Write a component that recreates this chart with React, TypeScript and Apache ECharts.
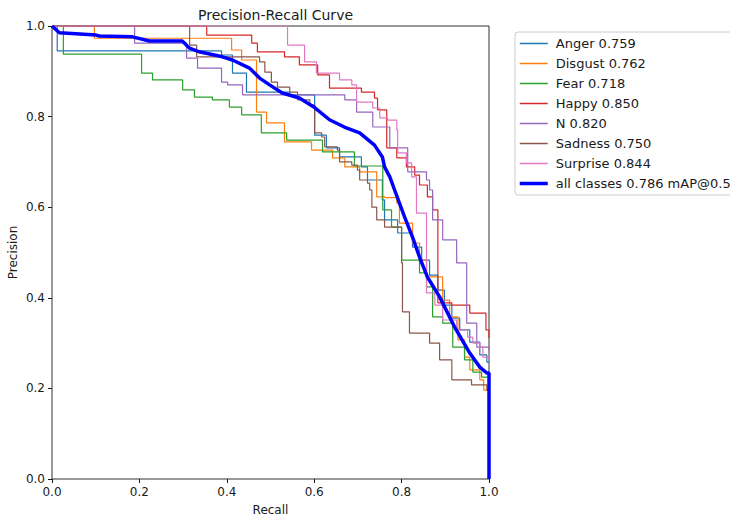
import React, { useEffect, useRef } from "react";
import * as echarts from "echarts";

const FONT = "DejaVu Sans";
const INK = "#1a1a1a";

const classNames = ["Anger 0.759", "Disgust 0.762", "Fear 0.718", "Happy 0.850", "N 0.820", "Sadness 0.750", "Surprise 0.844"];
const allName = "all classes 0.786 mAP@0.5";
const classColors = ["#1f77b4", "#ff7f0e", "#2ca02c", "#d62728", "#9467bd", "#8c564b", "#e377c2"];
const tickValues = [0, 0.2, 0.4, 0.6, 0.8, 1.0];

const anger = [
  [0, 1], [0.012, 0.945], [0.388, 0.936], [0.413, 0.896], [0.445, 0.854], [0.544, 0.848], [0.601, 0.759],
  [0.628, 0.731], [0.658, 0.711], [0.708, 0.689], [0.722, 0.66], [0.756, 0.616], [0.761, 0.572], [0.791, 0.543],
  [0.825, 0.512], [0.846, 0.483], [0.864, 0.45], [0.883, 0.417], [0.898, 0.384], [0.915, 0.355], [0.933, 0.329],
  [0.956, 0.302], [0.979, 0.274], [0.995, 0.258], [1.0, 0.258],
];
const disgust = [
  [0, 1], [0.097, 0.973], [0.411, 0.947], [0.434, 0.925], [0.468, 0.81], [0.491, 0.786], [0.532, 0.744],
  [0.594, 0.726], [0.642, 0.709], [0.67, 0.689], [0.704, 0.678], [0.743, 0.623], [0.762, 0.621],
  [0.789, 0.609], [0.795, 0.565], [0.825, 0.521], [0.841, 0.483], [0.857, 0.446], [0.894, 0.395], [0.91, 0.358],
  [0.929, 0.307], [0.944, 0.269], [0.956, 0.241], [0.979, 0.219], [0.988, 0.196], [1.0, 0.19],
];
const fear = [
  [0, 1], [0.026, 0.938], [0.205, 0.896], [0.23, 0.881], [0.299, 0.859], [0.326, 0.843], [0.367, 0.837],
  [0.406, 0.821], [0.434, 0.804], [0.479, 0.764], [0.537, 0.748], [0.619, 0.722], [0.692, 0.691], [0.757, 0.594],
  [0.777, 0.556], [0.8, 0.483], [0.841, 0.455], [0.857, 0.424], [0.871, 0.358], [0.894, 0.344], [0.917, 0.291],
  [0.944, 0.263], [0.963, 0.236], [0.983, 0.225], [1.0, 0.219],
];
const happy = [
  [0, 1], [0.354, 0.98], [0.457, 0.962], [0.47, 0.943], [0.532, 0.932], [0.566, 0.914], [0.608, 0.892],
  [0.635, 0.863], [0.708, 0.854], [0.738, 0.841], [0.745, 0.815], [0.766, 0.731], [0.789, 0.709], [0.811, 0.689],
  [0.83, 0.671], [0.841, 0.649], [0.859, 0.623], [0.871, 0.594], [0.883, 0.389], [0.915, 0.384], [0.956, 0.366],
  [0.993, 0.329], [1.0, 0.311],
];
const neutral = [
  [0, 1], [0.189, 0.962], [0.308, 0.929], [0.333, 0.907], [0.388, 0.876], [0.402, 0.87], [0.436, 0.848],
  [0.67, 0.837], [0.697, 0.81], [0.734, 0.777], [0.773, 0.731], [0.814, 0.678], [0.857, 0.66], [0.864, 0.638],
  [0.871, 0.572], [0.894, 0.528], [0.926, 0.477], [0.949, 0.344], [0.972, 0.291], [1.0, 0.285],
];
const sadness = [
  [0, 1], [0.315, 0.958], [0.331, 0.932], [0.475, 0.921], [0.487, 0.898], [0.502, 0.876], [0.516, 0.865],
  [0.544, 0.854], [0.562, 0.837], [0.59, 0.826], [0.601, 0.764], [0.617, 0.755], [0.624, 0.733], [0.653, 0.726],
  [0.658, 0.7], [0.686, 0.693], [0.699, 0.682], [0.704, 0.66], [0.722, 0.653], [0.727, 0.638], [0.732, 0.6],
  [0.743, 0.572], [0.761, 0.556], [0.8, 0.477], [0.802, 0.369], [0.818, 0.322], [0.864, 0.3], [0.887, 0.263],
  [0.915, 0.219], [0.96, 0.208], [0.995, 0.196], [1.0, 0.196],
];
const surprise = [
  [0, 1], [0.539, 0.958], [0.578, 0.921], [0.605, 0.896], [0.658, 0.881], [0.686, 0.87], [0.697, 0.832],
  [0.734, 0.819], [0.75, 0.797], [0.768, 0.792], [0.789, 0.77], [0.791, 0.72], [0.811, 0.698], [0.823, 0.667],
  [0.834, 0.587], [0.857, 0.411], [0.876, 0.384], [0.894, 0.351], [0.926, 0.329], [0.951, 0.313], [0.963, 0.3],
  [0.979, 0.291], [0.986, 0.269], [1.0, 0.263],
];
const allClasses = [
  [0, 1], [0.017, 0.985], [0.101, 0.98], [0.108, 0.978], [0.184, 0.976], [0.223, 0.967], [0.298, 0.967],
  [0.315, 0.951], [0.337, 0.943], [0.39, 0.932], [0.413, 0.925], [0.452, 0.907], [0.475, 0.885], [0.498, 0.87],
  [0.527, 0.852], [0.566, 0.841], [0.601, 0.82], [0.635, 0.793], [0.669, 0.777], [0.704, 0.764], [0.738, 0.737],
  [0.756, 0.711], [0.761, 0.689], [0.773, 0.667], [0.784, 0.638], [0.807, 0.578], [0.825, 0.534], [0.841, 0.49],
  [0.859, 0.446], [0.887, 0.402], [0.921, 0.336], [0.956, 0.278], [0.979, 0.247], [0.995, 0.234], [1.0, 0.234],
  [1.0, 0.0],
];

const classData = [anger, disgust, fear, happy, neutral, sadness, surprise];

export default function App() {
  const ref = useRef<HTMLDivElement>(null);
  useEffect(() => {
    if (!ref.current) return;
    const chart = echarts.init(ref.current, null, { renderer: "svg" });
    const series: any[] = classData.map((d, i) => ({
      name: classNames[i],
      type: "line",
      step: "end",
      data: d,
      symbol: "none",
      showSymbol: false,
      color: classColors[i],
      lineStyle: { width: 1.2, color: classColors[i] },
      z: 2,
    }));
    series.push({
      name: allName,
      type: "line",
      data: allClasses,
      symbol: "none",
      showSymbol: false,
      color: "#0000ff",
      lineStyle: { width: 3.5, color: "#0000ff" },
      z: 3,
    });
    const axisCommon = {
      type: "value",
      min: 0,
      max: 1,
      interval: 0.2,
      splitLine: { show: false },
      axisLine: { show: false },
      axisTick: { show: true, inside: false, length: 4, lineStyle: { color: INK, width: 1 } },
      axisLabel: {
        color: INK,
        fontFamily: FONT,
        fontSize: 12,
        margin: 7,
        formatter: (v: number) => (tickValues.some((t) => Math.abs(t - v) < 1e-9) ? v.toFixed(1) : ""),
      },
      nameTextStyle: { color: INK, fontFamily: FONT, fontSize: 12 },
      nameLocation: "middle",
      nameMoveOverlap: false,
    };
    chart.setOption({
      animation: false,
      backgroundColor: "#ffffff",
      title: {
        text: "Precision-Recall Curve",
        left: 270.5,
        top: 3,
        textAlign: "center",
        textStyle: { color: INK, fontFamily: FONT, fontSize: 14, fontWeight: "normal" },
      },
      grid: {
        left: 52,
        right: 241,
        top: 26,
        bottom: 41,
        show: true,
        containLabel: false,
        outerBoundsMode: "none",
        borderColor: "#333",
        borderWidth: 1,
        backgroundColor: "transparent",
      },
      xAxis: { ...axisCommon, name: "Recall", nameGap: 25 },
      yAxis: { ...axisCommon, name: "Precision", nameGap: 33 },
      legend: {
        orient: "vertical",
        left: 515,
        top: 32,
        padding: [5, 5, 5, 3],
        itemWidth: 28,
        itemHeight: 14,
        itemGap: 7,
        borderColor: "#cccccc",
        borderWidth: 1,
        borderRadius: 3,
        itemStyle: { opacity: 0 },
        lineStyle: { width: 1.5 },
        textStyle: { color: INK, fontFamily: FONT, fontSize: 13, padding: [0, 0, 0, 3] },
        data: [
          ...classNames.map((n) => ({ name: n })),
          { name: allName, lineStyle: { width: 3.5 } },
        ],
      },
      series,
    });
    return () => chart.dispose();
  }, []);
  return (
    <div
      ref={ref}
      style={{ position: "fixed", left: 0, top: 0, width: 730, height: 520, background: "#fff" }}
    />
  );
}
